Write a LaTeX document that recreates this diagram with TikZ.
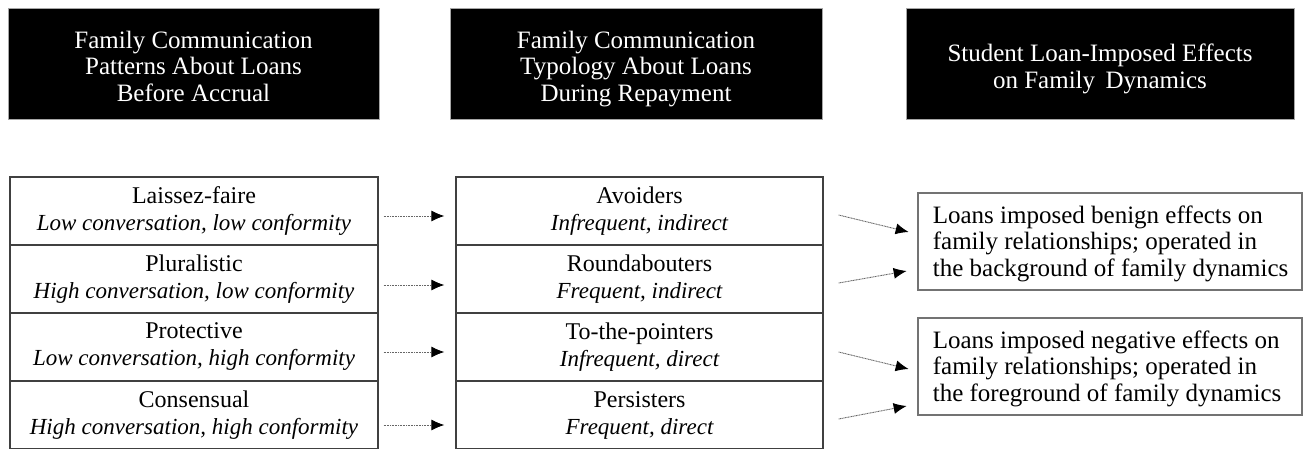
\documentclass[tikz,border=0pt]{standalone}
\usepackage{fontspec}
\setmainfont{Liberation Serif}
\usetikzlibrary{arrows.meta,calc}
\newcommand\subtx[1]{{\fontsize{23}{27}\selectfont\itshape #1}}
\begin{document}
\begin{tikzpicture}[x=1pt,y=-1pt,
  hdr/.style={draw=gray!70, fill=black, minimum height=111pt, inner sep=0pt},
  hdrtext/.style={text=white, align=center, font=\fontsize{25}{26.5}\selectfont,
    inner sep=0pt, text depth=0pt},
  cell/.style={draw=black!75, line width=1.2pt, minimum width=368pt, minimum height=68pt,
    align=center, font=\fontsize{24}{27}\selectfont, inner sep=0pt},
  res/.style={draw=black!55, line width=2.7pt, minimum width=384pt, minimum height=97pt,
    inner sep=0pt},
  restext/.style={align=left, font=\fontsize{25}{26.5}\selectfont, inner sep=0pt,
    anchor=west},
  arr/.style={draw=black!60, line width=0.9pt, dash pattern=on 1pt off 0.6pt,
    -{Latex[length=13pt,width=11pt,color=black]}}
]
\useasboundingbox (0,0) rectangle (1306,448);

% headers
\node[hdr, minimum width=371pt] (h1) at (193.5,63.5) {};
\node[hdr, minimum width=372pt] (h2) at (636,63.5) {};
\node[hdr, minimum width=388pt] (h3) at (1100,63.5) {};
\node[hdrtext] (h1t) at ([yshift=-2.5pt]h1.center) {Family Communication\\Patterns About Loans\\Before Accrual};
\node[hdrtext] (h2t) at ([yshift=-2.5pt]h2.center) {Family Communication\\Typology About Loans\\During Repayment};
\node[hdrtext] (h3t) at ([yshift=-2.5pt]h3.center) {Student Loan-Imposed Effects\\on Family\ \,Dynamics};

% left column
\node[cell] (l1) at (194,211) {Laissez-faire\\\subtx{Low conversation, low conformity}};
\node[cell] (l2) at (194,279) {Pluralistic\\\subtx{High conversation, low conformity}};
\node[cell] (l3) at (194,347) {Protective\\\subtx{Low conversation, high conformity}};
\node[cell] (l4) at (194,415) {Consensual\\\subtx{High conversation, high conformity}};

% middle column
\node[cell, minimum width=367pt] (m1) at (639.5,211) {Avoiders\\\subtx{Infrequent, indirect}};
\node[cell, minimum width=367pt] (m2) at (639.5,279) {Roundabouters\\\subtx{Frequent, indirect}};
\node[cell, minimum width=367pt] (m3) at (639.5,347) {To-the-pointers\\\subtx{Infrequent, direct}};
\node[cell, minimum width=367pt] (m4) at (639.5,415) {Persisters\\\subtx{Frequent, direct}};

% right column
\node[res] (r1) at (1110,241.5) {};
\node[res] (r2) at (1110,366.5) {};
\node[restext] (r1t) at ([xshift=16pt,yshift=-2pt]r1.west) {Loans imposed benign effects on\\family relationships; operated in\\the background of family dynamics};
\node[restext] (r2t) at ([xshift=16pt,yshift=-2pt]r2.west) {Loans imposed negative effects on\\family relationships; operated in\\the foreground of family dynamics};

% arrows left -> middle
\draw[arr] ([xshift=5pt,yshift=-5pt]l1.east) -- ([xshift=-11pt,yshift=-5pt]m1.west);
\draw[arr] ([xshift=5pt,yshift=-6pt]l2.east) -- ([xshift=-11pt,yshift=-6pt]m2.west);
\draw[arr] ([xshift=5pt,yshift=-5pt]l3.east) -- ([xshift=-11pt,yshift=-5pt]m3.west);
\draw[arr] ([xshift=5pt,yshift=-10pt]l4.east) -- ([xshift=-11pt,yshift=-10pt]m4.west);

% arrows middle -> right
\draw[arr] ([xshift=15pt,yshift=-4pt]m1.east) -- ([xshift=-8pt,yshift=9.5pt]r1.west);
\draw[arr] ([xshift=15pt,yshift=-4pt]m2.east) -- ([xshift=-10pt,yshift=-29.5pt]r1.west);
\draw[arr] ([xshift=15pt,yshift=-5pt]m3.east) -- ([xshift=-8pt,yshift=-2.5pt]r2.west);
\draw[arr] ([xshift=15pt,yshift=-4pt]m4.east) -- ([xshift=-10pt,yshift=-39.5pt]r2.west);
\end{tikzpicture}
\end{document}
